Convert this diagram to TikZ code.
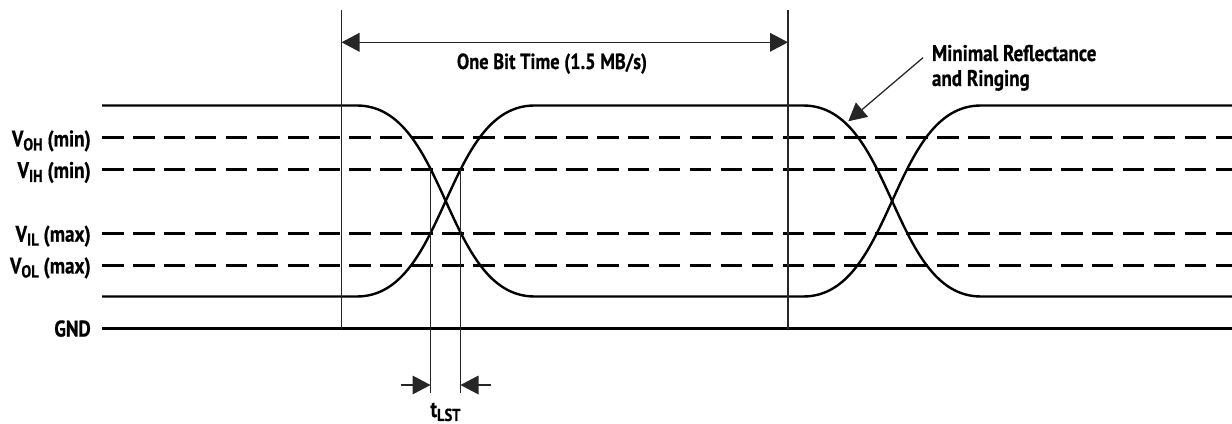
\documentclass[tikz,border=0pt]{standalone}
\usepackage{fontspec}
\setmainfont[FakeStretch=0.84,FakeBold=0.6]{PT Sans}
\usetikzlibrary{arrows.meta}
\newcommand\lowtxt[1]{\raisebox{-.35ex}{\fontsize{13}{13}\selectfont #1}}
\tikzset{
 x=0.75pt,y=-0.75pt,
 sig/.style={line width=1.8pt,black},
 lev/.style={line width=1.8pt,black,dash pattern=on 16.2pt off 7pt},
 thin rule/.style={line width=.95pt,black!85},
 dim/.style={line width=.95pt,black!85,-{Triangle[length=13.5pt,width=14pt]},shorten >=0pt},
 lab/.style={font=\bfseries\fontsize{17}{17}\selectfont,inner sep=0pt,text=black},
 levlab/.style={lab,anchor=base east},
}
\begin{document}
\begin{tikzpicture}
\useasboundingbox (0,0) rectangle (1232,424);
% level coordinates
\foreach \n/\y in {hi/105.5,oh/137.5,ih/169.5,il/233.5,ol/265.5,lo/296.5,gnd/328.5}{
  \coordinate (\n L) at (102,\y);
  \coordinate (\n R) at (1232,\y);
}
% dashed levels
\draw[lev] (ohL) -- (ohR);
\draw[lev] (ihL) -- (ihR);
\draw[lev] (ilL) -- (ilR);
\draw[lev] (olL) -- (olR);
\draw[sig] (gndL) -- (gndR);
% signal traces
\coordinate (a) at (356.8,105.5);
\coordinate (b) at (534.6,296.5);
\coordinate (c) at (803.2,296.5);
\coordinate (d) at (981,105.5);
\coordinate (e) at (356.8,296.5);
\coordinate (f) at (534.6,105.5);
\coordinate (g) at (803.2,105.5);
\coordinate (h) at (981,296.5);
\draw[sig] (hiL) -- (a) .. controls (447.5,105.5) and (443.9,296.5) .. (b) -- (c)
   .. controls (893.9,296.5) and (890.3,105.5) .. (d) -- (hiR);
\draw[sig] (loL) -- (e) .. controls (447.5,296.5) and (443.9,105.5) .. (f) -- (g)
   .. controls (893.9,105.5) and (890.3,296.5) .. (h) -- (loR);
% verticals
\coordinate (v1t) at (341.5,10);
\coordinate (v1b) at (341.5,328.5);
\coordinate (v2t) at (788,10);
\coordinate (v2b) at (788,328.5);
\coordinate (t1t) at (430.5,169.5);
\coordinate (t1b) at (430.5,392.5);
\coordinate (t2t) at (460.5,169.5);
\coordinate (t2b) at (460.5,392.5);
\draw[thin rule] (v1t) -- (v1b);
\draw[thin rule] (v2t) -- (v2b);
\draw[thin rule] (t1t) -- (t1b);
\draw[thin rule] (t2t) -- (t2b);
% dimension arrows
\coordinate (dl) at (341.5,42.3);
\coordinate (dr) at (788,42.3);
\draw[thin rule,{Triangle[length=13.5pt,width=14pt]}-{Triangle[length=13.5pt,width=14pt]}] (dl) -- (dr);
\coordinate (t1s) at (400.7,385);
\coordinate (t1e) at (430.5,385);
\coordinate (t2s) at (491,385);
\coordinate (t2e) at (460.5,385);
\draw[dim] (t1s) -- (t1e);
\draw[dim] (t2s) -- (t2e);
\coordinate (ms) at (923,57.7);
\coordinate (me) at (848.3,121.3);
\draw[dim] (ms) -- (me);
% labels
\node[levlab] (voh) at (91,146.5) {V\lowtxt{OH} (min)};
\node[levlab] (vih) at (91,178) {V\lowtxt{IH} (min)};
\node[levlab] (vil) at (91,241.7) {V\lowtxt{IL} (max)};
\node[levlab] (vol) at (91,273.5) {V\lowtxt{OL} (max)};
\node[levlab] (gndt) at (91,336.5) {GND};
\node[lab,anchor=base,font=\bfseries\fontsize{16.4}{17}\selectfont] (bit) at (552,69) {One Bit Time (1.5 MB/s)};
\node[lab,anchor=base west] (m1) at (931.7,61) {Minimal Reflectance};
\node[lab,anchor=base west] (m2) at (931.7,86) {and Ringing};
\node[lab,anchor=base] (tl) at (445.5,417) {t\lowtxt{LST}};
\end{tikzpicture}
\end{document}
